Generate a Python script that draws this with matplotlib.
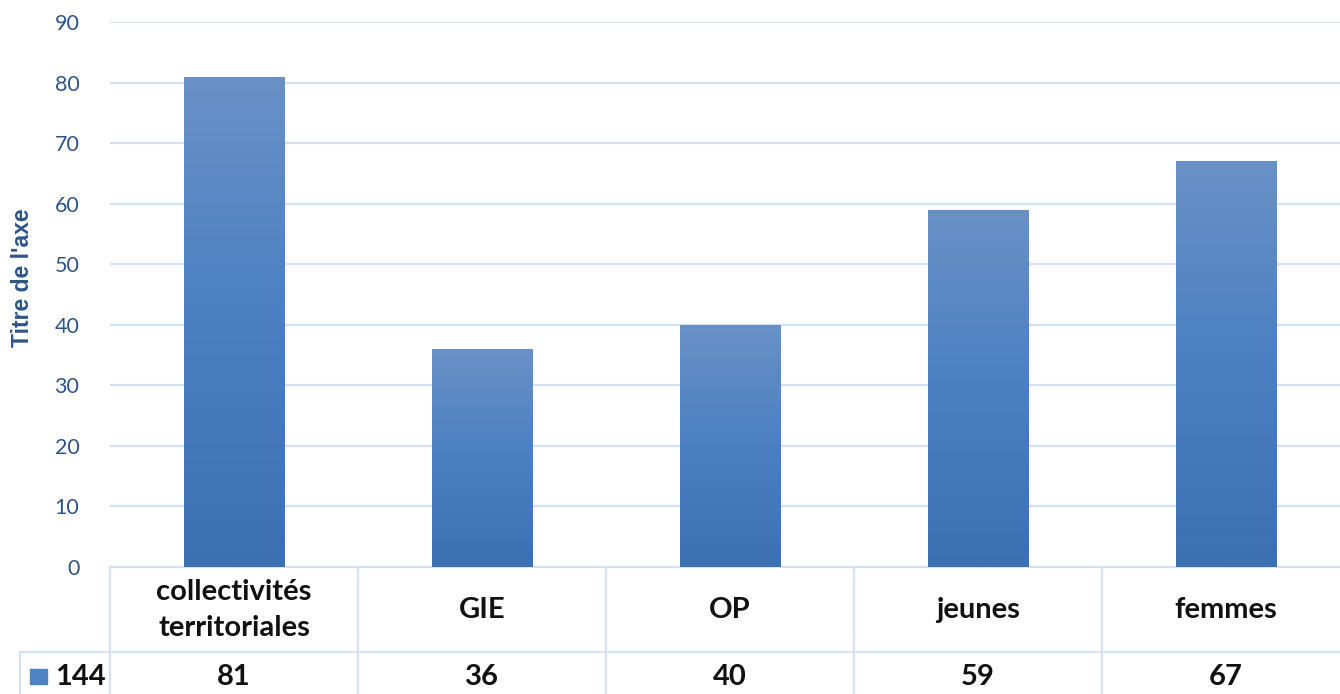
# Histogramme style Excel avec tableau de données sous l'axe
import matplotlib.pyplot as plt
import numpy as np
from matplotlib.colors import LinearSegmentedColormap
from matplotlib.transforms import blended_transform_factory

plt.rcParams['font.family'] = ['Lato', 'DejaVu Sans']

categories = ["collectivités\nterritoriales", "GIE", "OP", "jeunes", "femmes"]
values = [81, 36, 40, 59, 67]
series_name = "144"
yticks = [0, 10, 20, 30, 40, 50, 60, 70, 80, 90]

grid_col = "#d5e1f2"
tick_col = "#2f5487"
grad = LinearSegmentedColormap.from_list("bar", ["#3c70b1", "#4a80c2", "#6991c6"])

fig = plt.figure(figsize=(13.4, 6.94), dpi=100)
ax = fig.add_axes([110 / 1340, 1 - 567 / 694, 1240 / 1340, 545 / 694])

x = np.arange(len(categories))
bw = 0.405
bars = ax.bar(x, values, width=bw, color="none", zorder=3)

# dégradé vertical dans chaque barre
g = np.linspace(0, 1, 256).reshape(-1, 1)
for b in bars:
    x0, w, h = b.get_x(), b.get_width(), b.get_height()
    im = ax.imshow(g, cmap=grad, origin="lower", aspect="auto",
                   extent=[x0, x0 + w, 0, h], zorder=3)
    im.set_clip_path(b)

ax.set_xlim(-0.5, len(categories) - 0.5)
ax.set_ylim(0, 90)
ax.set_yticks(yticks)
ax.yaxis.grid(True, color=grid_col, linewidth=1.6, zorder=0)
ax.set_xticks([])
ax.tick_params(axis="y", length=0, labelsize=15.5, labelcolor=tick_col, pad=22)
for s in ax.spines.values():
    s.set_visible(False)

fig.text(23 / 1340, 1 - 278 / 694, "Titre de l'axe", rotation=90, ha="center", va="center",
         fontsize=16.5, fontweight="bold", color=tick_col,
         family=["Liberation Sans", "DejaVu Sans"])

# tableau de données
tr = blended_transform_factory(ax.transData, ax.transAxes)
row1 = -85 / 545
bottom = -130 / 545
ax.plot([-0.5, 4.5], [0, 0], transform=tr, color=grid_col, lw=1.6, clip_on=False)
ax.plot([-0.5 - 90 / 248, 4.5], [row1, row1], transform=tr, color=grid_col, lw=1.6, clip_on=False)
for xv in np.arange(-0.5, len(categories), 1.0):
    ax.plot([xv, xv], [0, bottom], transform=tr, color=grid_col, lw=1.6, clip_on=False)
ax.plot([-0.5 - 90 / 248] * 2, [row1, bottom], transform=tr, color=grid_col, lw=1.6, clip_on=False)

for i, (c, v) in enumerate(zip(categories, values)):
    ax.text(i, -43 / 545, c, transform=tr, ha="center", va="center",
            fontsize=21, fontweight="bold", color="#111111", linespacing=1.45)
    ax.text(i, -110 / 545, str(v), transform=tr, ha="center", va="center",
            fontsize=21, fontweight="bold", color="#111111")

# clé de légende
ax.add_patch(plt.Rectangle((-0.5 - 80 / 248, -117 / 545), 17 / 248, 15 / 545,
                           transform=tr, clip_on=False, color="#4f82c0"))
ax.text(-0.5 - 55 / 248, -110 / 545, series_name, transform=tr, ha="left", va="center",
        fontsize=21, fontweight="bold", color="#111111")

fig.savefig("out.png", dpi=100)
